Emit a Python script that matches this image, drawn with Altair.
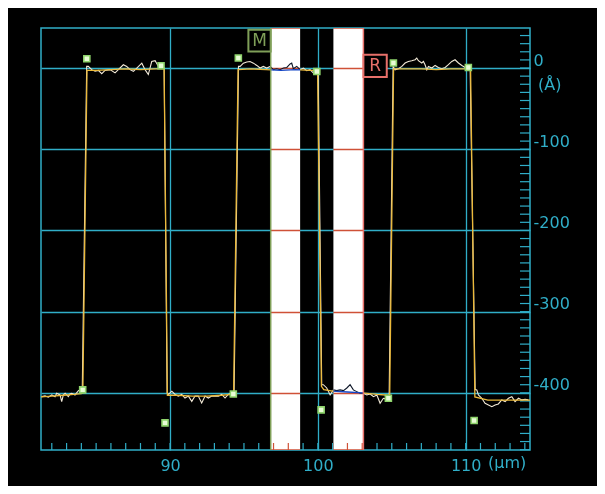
import altair as alt
import pandas as pd

# ------------------------------------------------------------------ data
# white (raw) profile trace: x in µm, height in Å
white_x = [
    81.32, 81.54, 81.77, 82.00, 82.22, 82.33, 82.56, 82.67, 82.78, 82.90, 83.12, 83.23, 83.35, 83.57, 83.80, 83.91,
    84.06, 84.36,
    84.47, 84.70, 84.93, 85.15, 85.38, 85.60, 85.94, 86.28, 86.50, 86.84, 87.07, 87.29, 87.52, 87.75, 88.09, 88.31,
    88.53, 88.76, 88.99, 89.21, 89.39,
    89.60, 89.80,
    89.89, 90.12, 90.34, 90.56, 90.79, 91.01, 91.24, 91.47, 91.69, 91.91, 92.14, 92.37, 92.59, 92.82, 93.04, 93.27,
    93.50, 93.72, 93.94, 94.17,
    94.33, 94.63,
    94.74, 94.96, 95.19, 95.41, 95.64, 95.87, 96.09, 96.31, 96.54, 96.77, 96.99, 97.22, 97.44, 97.67, 97.90, 98.12,
    98.23, 98.34, 98.57, 98.80, 99.02, 99.25, 99.47, 99.70, 99.93,
    100.02, 100.26,
    100.37, 100.60, 100.83, 101.05, 101.28, 101.50, 101.73, 101.96, 102.18, 102.40, 102.63, 102.86, 103.08, 103.31,
    103.53, 103.76, 103.99, 104.21, 104.43, 104.66,
    104.82, 105.09,
    105.22, 105.45, 105.68, 105.90, 106.12, 106.35, 106.58, 106.69, 106.80, 107.03, 107.14, 107.25, 107.37, 107.48,
    107.71, 107.93, 108.15, 108.38, 108.61, 108.83, 109.06, 109.28, 109.51, 109.74, 109.96, 110.18,
    110.30, 110.64,
    110.75, 110.86, 111.09, 111.31, 111.54, 111.77, 111.99, 112.21, 112.44, 112.67, 112.89, 113.12, 113.34, 113.57,
    113.80, 114.02, 114.24,
]
white_y = [
    -404.7, -403.8, -405.4, -402.6, -404.7, -400.5, -402.6, -410.8, -402.6, -400.5, -404.7, -401.4, -400.5, -402.6, -397.3, -396.4,
    -398, 2,
    2, -2, -4, -3, -7, -3, -2, -6, -2, 4, 2, -2, -4, 0, 6, -2,
    -8, 8, 9, 2, 1,
    0, -400,
    -402, -398, -402, -404, -402, -406.4, -404, -410.5, -404, -404, -412.6, -404, -406.4, -404, -404, -404,
    -402, -406.4, -402, -400,
    -401, 2,
    2, 6, 7.4, 8, 6, 3.2, 0, 2, 0, 2, -2, -0.9, -2, 0, 0.7, 5,
    6, -0.9, 2, -2, 0, -3.3, -2, -6.2, -4.2,
    -4, -390,
    -390, -394, -402.6, -396.4, -397.3, -396.4, -397.3, -394, -390, -396.4, -398.5, -400.5, -400.5, -402.6,
    -401.4, -404.7, -402.6, -412.8, -406.7, -408,
    -406, 2,
    -2.1, -0.9, 2, 6.2, 8.1, 9, 10.2, 12.3, 9, 6.2, 8.1, 4.1, -2.1, 2,
    0, 3.2, 0.7, -0.9, 0.7, 4.1, 8.1, 10.2, 6.2, 3.2, 0.7, 0.7,
    0, -396,
    -396.4, -402.6, -406.7, -412.8, -414.9, -417, -414.9, -413.7, -408.7, -410.8, -406.7, -404.7, -410.8, -406.7,
    -408.7, -407.9, -408.7,
]

# yellow (filtered) profile trace
yellow_x = [81.27, 82.0, 82.8, 83.5, 84.0, 84.10, 84.38, 85.0, 86.0, 87.0, 88.0, 89.0, 89.60, 89.82,
            90.5, 91.5, 92.5, 93.5, 94.2, 94.30, 94.60, 95.5, 96.5, 97.5, 98.5, 99.5, 99.98, 100.24,
            100.4, 101.0, 102.0, 103.0, 104.0, 104.80, 104.86, 105.12, 106.0, 107.0, 108.0, 109.0,
            110.25, 110.33, 110.62, 111.5, 112.5, 113.5, 114.35]
yellow_y = [-405, -404, -403, -402, -401, -400, -3, -3, -2, -1, -2, -1, -1, -403,
            -403, -404, -404, -403, -402, -401, -2, -1, -2, -3, -2, -3, -3, -392,
            -396, -398, -399, -400, -402, -403, -403, -1, -1, -1, -2, -1,
            -1, -1, -405, -409, -409, -409, -409]

# step-edge markers
marker_x = [84.37, 89.39, 89.66, 84.09, 94.62, 99.93, 100.22, 94.28, 105.11, 110.18, 110.57, 104.77]
marker_y = [11.5, 2.8, -437, -396.4, 12.3, -4.2, -421, -401.4, 6.2, 0.7, -434, -406.7]

# highlighted (measurement) bands
band_start = [96.81, 101.05]
band_end = [98.80, 103.08]

# cursors M and R
cursor_name = ["M", "R"]
cursor_pos = [96.81, 103.08]
cursor_box_x0 = [95.30, 103.08]
cursor_box_x1 = [96.81, 104.66]
cursor_box_y0 = [20.5, -11.1]
cursor_box_y1 = [47.2, 16.4]
cursor_color = ["#7f9f58", "#e8706a"]

x_labels = [90, 100, 110]
y_labels = [0, -100, -200, -300, -400]
x_minor = list(range(82, 115))
y_minor = list(range(40, -471, -10))

# ------------------------------------------------------------------ style
W, H = 489, 422
CYAN = "#30aec8"
FONT = "DejaVu Sans"

xs = alt.Scale(domain=[81.27, 114.35], nice=False, zero=False)
ys = alt.Scale(domain=[-470.4, 49.3], nice=False, zero=False)

white_df = pd.DataFrame({"x": white_x, "y": white_y})
yellow_df = pd.DataFrame({"x": yellow_x, "y": yellow_y})
marker_df = pd.DataFrame({"x": marker_x, "y": marker_y})
band_df = pd.DataFrame({"x0": band_start, "x1": band_end})
cur_df = pd.DataFrame({"name": cursor_name, "pos": cursor_pos, "bx0": cursor_box_x0, "bx1": cursor_box_x1,
                       "by0": cursor_box_y0, "by1": cursor_box_y1, "col": cursor_color})
cur_df["bxm"] = (cur_df["bx0"] + cur_df["bx1"]) / 2
cur_df["bym"] = (cur_df["by0"] + cur_df["by1"]) / 2
xt_df = pd.DataFrame({"x": x_minor})
yt_df = pd.DataFrame({"y": y_minor})

x_axis = alt.Axis(values=x_labels, orient="bottom", grid=True, gridColor=CYAN, gridWidth=1.3,
                  domain=False, ticks=False, labelColor=CYAN, labelFont=FONT, labelFontSize=16,
                  labelPadding=7, labelAngle=0, title=None, labelFlush=False,
                  labelExpr="datum.value + ''")
y_axis = alt.Axis(values=y_labels, orient="right", grid=True, gridColor=CYAN, gridWidth=1.3,
                  domain=False, ticks=False, labelColor=CYAN, labelFont=FONT, labelFontSize=16,
                  labelPadding=3, labelAlign="left", labelOffset=-8, title=None, labelFlush=False,
                  labelExpr="datum.value + ''")


def X(field):
    return alt.X(field, scale=xs, axis=x_axis, title=None)


def Y(field):
    return alt.Y(field, scale=ys, axis=y_axis, title=None)


white_line = alt.Chart(white_df).mark_line(color="#f3ead8", strokeWidth=1.1).encode(
    x=X("x:Q"), y=Y("y:Q"))
yellow_line = alt.Chart(yellow_df).mark_line(color="#ebb93a", strokeWidth=1.3).encode(
    x=X("x:Q"), y=Y("y:Q"))

x_ticks = alt.Chart(xt_df).mark_rule(color=CYAN, strokeWidth=1.2).encode(
    x=X("x:Q"), y=alt.value(H), y2=alt.value(H - 7))
y_ticks = alt.Chart(yt_df).mark_rule(color=CYAN, strokeWidth=1.2).encode(
    y=Y("y:Q"), x=alt.value(W - 10), x2=alt.value(W))

bands = alt.Chart(band_df).mark_rect(color="white", blend="difference").encode(
    x=X("x0:Q"), x2="x1:Q", y=alt.value(0), y2=alt.value(H))

cursor_lines = alt.Chart(cur_df).mark_rule(strokeWidth=1.5).encode(
    x=X("pos:Q"), y=alt.value(0), y2=alt.value(H),
    color=alt.Color("col:N", scale=None))
cursor_boxes = alt.Chart(cur_df).mark_rect(fill="black", strokeWidth=2).encode(
    x=X("bx0:Q"), x2="bx1:Q", y=Y("by0:Q"), y2="by1:Q",
    stroke=alt.Color("col:N", scale=None))
cursor_text = alt.Chart(cur_df).mark_text(font=FONT, fontSize=17, baseline="middle", align="center").encode(
    x=X("bxm:Q"), y=Y("bym:Q"), text="name:N",
    color=alt.Color("col:N", scale=None))

markers = alt.Chart(marker_df).mark_square(size=36, fill="#e8fcd6", stroke="#8fd46c",
                                           strokeWidth=1.6, opacity=1).encode(
    x=X("x:Q"), y=Y("y:Q"))

unit_y = alt.Chart(pd.DataFrame({"t": ["(Å)"]})).mark_text(
    font=FONT, fontSize=16, color=CYAN, align="left", baseline="middle").encode(
    x=alt.value(W + 8), y=alt.value(57), text="t:N")
unit_x = alt.Chart(pd.DataFrame({"t": ["(µm)"]})).mark_text(
    font=FONT, fontSize=16, color=CYAN, align="left", baseline="middle").encode(
    x=alt.value(W - 42), y=alt.value(H + 13), text="t:N")

chart = alt.layer(
    x_ticks, y_ticks, white_line, yellow_line, bands,
    cursor_lines, cursor_boxes, cursor_text, markers, unit_y, unit_x,
).properties(
    width=W, height=H, background="black",
    autosize=alt.AutoSizeParams(type="none"),
    padding={"left": 33, "top": 20, "right": 67, "bottom": 36},
).configure_view(stroke=CYAN, strokeWidth=1.5, fill="black")

chart.save("out.html", embed_options={"renderer": "svg", "actions": False})
